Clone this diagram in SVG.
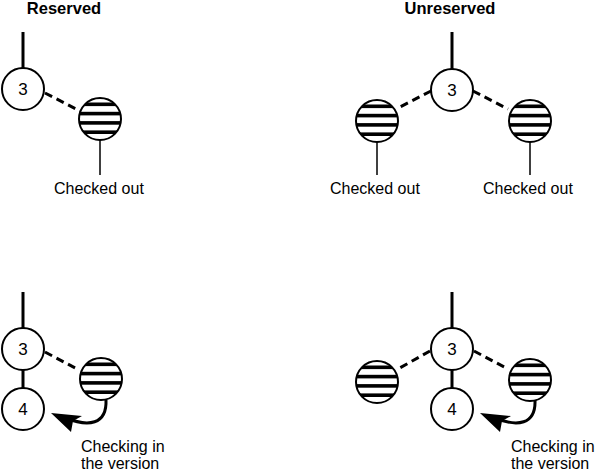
<svg xmlns="http://www.w3.org/2000/svg" xmlns:xlink="http://www.w3.org/1999/xlink" width="598" height="471" viewBox="0 0 598 471">
<style>
.ver{fill:#fff;stroke:#000;stroke-width:2}
.num{font-family:"Liberation Sans",Arial,sans-serif;font-size:17px;text-anchor:middle;fill:#000}
.lbl{font-family:"Liberation Sans",Arial,sans-serif;font-size:16px;fill:#000}
.ttl{font-family:"Liberation Sans",Arial,sans-serif;font-size:16.5px;font-weight:bold;text-anchor:middle;fill:#000}
.trunk{stroke:#000;stroke-width:3;fill:none}
.stem{stroke:#000;stroke-width:1.5;fill:none}
.dash{stroke:#000;stroke-width:3;stroke-dasharray:8 5;fill:none}
.curve{stroke:#000;stroke-width:3;fill:none}
</style>
<defs>
<clipPath id="bc"><circle cx="0" cy="0" r="21"/></clipPath>
<g id="ball">
<circle cx="0" cy="0" r="21" fill="#fff"/>
<g clip-path="url(#bc)" fill="#000">
<rect x="-22" y="-16.5" width="44" height="3.6"/>
<rect x="-22" y="-7.2" width="44" height="3.6"/>
<rect x="-22" y="2.1" width="44" height="3.6"/>
<rect x="-22" y="11.4" width="44" height="3.6"/>
</g>
<circle cx="0" cy="0" r="21" fill="none" stroke="#000" stroke-width="2"/>
</g>
<g id="ahead"><path d="M51 413 L82 416 L73 421 L71 432 Z" fill="#000"/></g>
</defs>

<text class="ttl" x="64" y="14">Reserved</text>
<text class="ttl" x="450" y="14">Unreserved</text>

<g id="connectors">
<line class="trunk" x1="23" y1="32" x2="23" y2="68"/>
<line class="dash" x1="45" y1="93" x2="80" y2="111"/>
<line class="stem" x1="100" y1="140" x2="100" y2="175"/>

<line class="trunk" x1="452" y1="32" x2="452" y2="69"/>
<line class="dash" x1="431" y1="91" x2="398" y2="108"/>
<line class="dash" x1="473" y1="91" x2="508" y2="109"/>
<line class="stem" x1="377" y1="142" x2="377" y2="175"/>
<line class="stem" x1="530" y1="142" x2="530" y2="175"/>

<line class="trunk" x1="23" y1="292" x2="23" y2="328"/>
<line class="trunk" x1="23" y1="370" x2="23" y2="388"/>
<line class="dash" x1="45" y1="352" x2="79" y2="370"/>
<path class="curve" d="M106 400 C107 425 88 427 66 418"/>
<use xlink:href="#ahead"/>

<line class="trunk" x1="452" y1="292" x2="452" y2="328"/>
<line class="trunk" x1="452" y1="370" x2="452" y2="388"/>
<line class="dash" x1="430" y1="351" x2="398" y2="369"/>
<line class="dash" x1="474" y1="351" x2="508" y2="369"/>
<path class="curve" d="M535 400 C536 425 517 427 495 418"/>
<use xlink:href="#ahead" x="429"/>
</g>

<g id="tl-v3"><circle class="ver" cx="23" cy="89" r="21"/><text class="num" x="23" y="95">3</text></g>
<g id="tl-co"><use xlink:href="#ball" x="100" y="119"/></g>
<text class="lbl" x="54" y="194">Checked out</text>

<g id="tr-v3"><circle class="ver" cx="452" cy="90" r="21"/><text class="num" x="452" y="96">3</text></g>
<g id="tr-co1"><use xlink:href="#ball" x="377" y="121"/></g>
<g id="tr-co2"><use xlink:href="#ball" x="530" y="121"/></g>
<text class="lbl" x="330" y="194">Checked out</text>
<text class="lbl" x="483" y="194">Checked out</text>

<g id="bl-v3"><circle class="ver" cx="23" cy="349" r="21"/><text class="num" x="23" y="355">3</text></g>
<g id="bl-v4"><circle class="ver" cx="23" cy="409" r="21"/><text class="num" x="23" y="415">4</text></g>
<g id="bl-co"><use xlink:href="#ball" x="101" y="379"/></g>
<text class="lbl" x="81" y="452">Checking in</text>
<text class="lbl" x="81" y="469">the version</text>

<g id="br-v3"><circle class="ver" cx="452" cy="349" r="21"/><text class="num" x="452" y="355">3</text></g>
<g id="br-v4"><circle class="ver" cx="452" cy="409" r="21"/><text class="num" x="452" y="415">4</text></g>
<g id="br-co1"><use xlink:href="#ball" x="377" y="382"/></g>
<g id="br-co2"><use xlink:href="#ball" x="530" y="380"/></g>
<text class="lbl" x="511" y="452">Checking in</text>
<text class="lbl" x="511" y="469">the version</text>
</svg>
